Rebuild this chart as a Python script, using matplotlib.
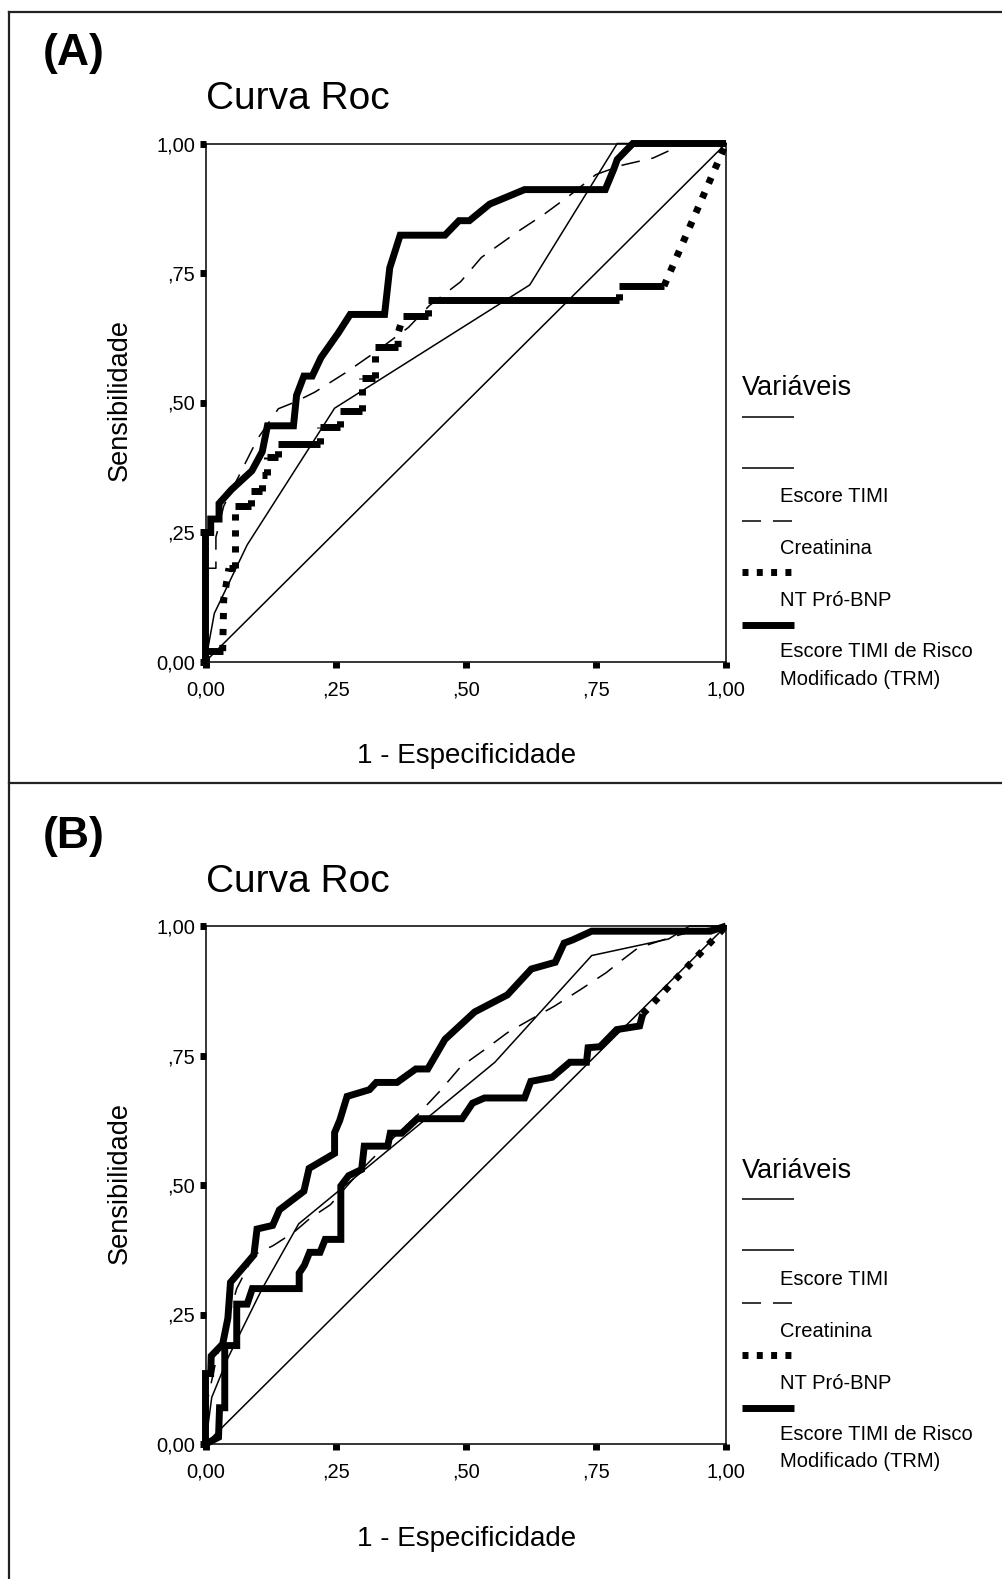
import matplotlib
matplotlib.use("Agg")
import matplotlib.pyplot as plt
from matplotlib.lines import Line2D

plt.rcParams['font.family'] = ['Liberation Sans', 'DejaVu Sans']
plt.rcParams['lines.scale_dashes'] = False

# ---------------- DATA ----------------
tick_vals = [0.0, 0.25, 0.5, 0.75, 1.0]
xtick_labels = ["0,00", ",25", ",50", ",75", "1,00"]
ytick_labels = ["0,00", ",25", ",50", ",75", "1,00"]
legend_labels = ["", "Escore TIMI", "Creatinina", "NT Pró-BNP",
                 "Escore TIMI de Risco", "Modificado (TRM)"]

ref_x = [0.0, 1.0]
ref_y = [0.0, 1.0]

# Panel A
a_timi_x = [0.0, 0.017, 0.08, 0.248, 0.623, 0.791, 1.0]
a_timi_y = [0.0, 0.093, 0.225, 0.489, 0.727, 1.0, 1.0]

a_creat_x = [0.0, 0.0, 0.02, 0.02, 0.035, 0.10, 0.14, 0.17, 0.21, 0.27, 0.33,
             0.39, 0.43, 0.49, 0.53, 0.60, 0.65, 0.70, 0.75, 0.80, 0.86, 0.91, 1.0]
a_creat_y = [0.0, 0.18, 0.18, 0.24, 0.30, 0.43, 0.488, 0.50, 0.52, 0.558, 0.60,
             0.645, 0.687, 0.733, 0.78, 0.83, 0.863, 0.90, 0.94, 0.958, 0.972, 0.995, 1.0]

a_bnp_x = [0.0, 0.0, 0.033, 0.035, 0.045, 0.057, 0.057, 0.087, 0.087, 0.108, 0.108,
           0.118, 0.118, 0.14, 0.14, 0.22, 0.22, 0.258, 0.258, 0.30, 0.30, 0.30,
           0.325, 0.325, 0.325, 0.37, 0.37, 0.38, 0.427, 0.427, 0.795, 0.795, 0.881, 1.0]
a_bnp_y = [0.0, 0.02, 0.02, 0.12, 0.18, 0.18, 0.30, 0.30, 0.33, 0.33, 0.36,
           0.36, 0.395, 0.395, 0.42, 0.42, 0.453, 0.453, 0.484, 0.484, 0.511, 0.547,
           0.547, 0.571, 0.607, 0.607, 0.634, 0.667, 0.667, 0.697, 0.697, 0.725, 0.725, 1.0]

a_trm_x = [0.0, 0.0, 0.01, 0.01, 0.026, 0.026, 0.05, 0.089, 0.109, 0.119, 0.169,
           0.175, 0.189, 0.205, 0.222, 0.255, 0.278, 0.344, 0.354, 0.374, 0.460,
           0.487, 0.507, 0.546, 0.613, 0.768, 0.785, 0.791, 0.821, 1.0]
a_trm_y = [0.0, 0.249, 0.249, 0.275, 0.275, 0.305, 0.332, 0.368, 0.405, 0.455, 0.455,
           0.514, 0.551, 0.551, 0.587, 0.634, 0.670, 0.670, 0.760, 0.823, 0.823,
           0.851, 0.851, 0.883, 0.911, 0.911, 0.952, 0.969, 1.0, 1.0]

# Panel B
b_timi_x = [0.0, 0.012, 0.043, 0.109, 0.179, 0.556, 0.742, 0.89, 0.93, 1.0]
b_timi_y = [0.0, 0.09, 0.166, 0.30, 0.425, 0.737, 0.943, 0.975, 1.0, 1.0]

b_creat_x = [0.0, 0.005, 0.02, 0.04, 0.06, 0.093, 0.13, 0.17, 0.20, 0.24, 0.30,
             0.36, 0.41, 0.45, 0.49, 0.54, 0.58, 0.62, 0.67, 0.72, 0.77, 0.80,
             0.83, 0.86, 0.90, 0.95, 1.0]
b_creat_y = [0.0, 0.09, 0.16, 0.23, 0.30, 0.365, 0.383, 0.409, 0.435, 0.462, 0.53,
             0.59, 0.638, 0.681, 0.728, 0.764, 0.794, 0.817, 0.845, 0.877, 0.91, 0.934,
             0.957, 0.967, 0.98, 0.993, 1.0]

b_bnp_x = [0.0, 0.025, 0.027, 0.037, 0.037, 0.06, 0.06, 0.08, 0.09, 0.18, 0.18,
           0.19, 0.20, 0.22, 0.23, 0.26, 0.26, 0.275, 0.30, 0.305, 0.35, 0.355,
           0.377, 0.407, 0.493, 0.513, 0.536, 0.613, 0.625, 0.666, 0.70, 0.732,
           0.735, 0.758, 0.79, 0.834, 0.84, 1.0]
b_bnp_y = [0.0, 0.013, 0.07, 0.07, 0.19, 0.19, 0.27, 0.27, 0.30, 0.30, 0.33,
           0.345, 0.37, 0.37, 0.395, 0.395, 0.498, 0.518, 0.53, 0.575, 0.575, 0.60,
           0.60, 0.628, 0.628, 0.658, 0.668, 0.668, 0.70, 0.708, 0.737, 0.737,
           0.765, 0.767, 0.80, 0.807, 0.83, 1.0]

b_trm_x = [0.0, 0.0, 0.01, 0.011, 0.033, 0.043, 0.048, 0.093, 0.099, 0.129, 0.142,
           0.189, 0.199, 0.248, 0.248, 0.258, 0.272, 0.315, 0.328, 0.368, 0.404,
           0.427, 0.46, 0.517, 0.58, 0.626, 0.672, 0.689, 0.705, 0.742, 0.97, 1.0]
b_trm_y = [0.0, 0.136, 0.136, 0.17, 0.193, 0.243, 0.312, 0.365, 0.415, 0.422, 0.452,
           0.488, 0.532, 0.561, 0.601, 0.625, 0.671, 0.684, 0.698, 0.698, 0.724,
           0.724, 0.781, 0.834, 0.867, 0.917, 0.930, 0.967, 0.973, 0.99, 0.99, 1.0]

# ---------------- FIGURE ----------------
W, H = 1002, 1579
fig = plt.figure(figsize=(W / 100, H / 100), dpi=100)


def fx(px):
    return px / W


def fy(py):
    return 1 - py / H


THIN = 1.1
THICK = 5.0
DOT = (0, (4.5, 7.0))
DASH = (0, (13.5, 8.5))


def draw_bnp(ax, xs, ys, is_solid):
    # group consecutive segments by style
    groups = []
    for i in range(len(xs) - 1):
        solid = is_solid(xs[i + 1] - xs[i], ys[i + 1] - ys[i])
        if groups and groups[-1][0] == solid:
            groups[-1][1].append(xs[i + 1])
            groups[-1][2].append(ys[i + 1])
        else:
            groups.append([solid, [xs[i], xs[i + 1]], [ys[i], ys[i + 1]]])
    for solid, gx, gy in groups:
        ax.plot(gx, gy, color='black', lw=THICK,
                linestyle='-' if solid else DOT,
                solid_capstyle='butt', dash_capstyle='butt',
                solid_joinstyle='miter', clip_on=False, zorder=3)


def panel(off, letter, timi, creat, bnp, trm, bnp_rule):
    top, bot = 143.5 + off, 661.5 + off
    left, right = 205.5, 726
    ax = fig.add_axes([fx(left), fy(bot), fx(right) - fx(left), (bot - top) / H])
    ax.set_xlim(0, 1)
    ax.set_ylim(0, 1)
    for s in ax.spines.values():
        s.set_linewidth(1.1)
    ax.set_xticks(tick_vals)
    ax.set_xticklabels(xtick_labels)
    ax.set_yticks(tick_vals)
    ax.set_yticklabels(ytick_labels)
    ax.tick_params(direction='out', length=4.5, width=5, labelsize=14.5,
                   colors='black')
    ax.tick_params(axis='x', pad=9)
    ax.tick_params(axis='y', pad=3)

    ax.plot(ref_x, ref_y, color='black', lw=THIN, zorder=2, clip_on=False)
    ax.plot(timi[0], timi[1], color='black', lw=THIN, zorder=2, clip_on=False)
    ax.plot(creat[0], creat[1], color='black', lw=THIN, linestyle=DASH,
            zorder=2, clip_on=False)
    draw_bnp(ax, bnp[0], bnp[1], bnp_rule)
    ax.plot(trm[0], trm[1], color='black', lw=THICK, zorder=4, clip_on=False,
            solid_capstyle='butt', solid_joinstyle='miter')

    # titles and labels
    fig.text(fx(43), fy(54 + off), letter, fontsize=32, fontweight='bold',
             ha='left', va='center')
    fig.text(fx(206), fy(99 + off), "Curva Roc", fontsize=28, ha='left',
             va='center')
    fig.text(fx(120), fy(400 + off), "Sensibilidade", fontsize=19.5,
             rotation=90, ha='center', va='center')
    fig.text(fx(467), fy(756 + off), "1 - Especificidade", fontsize=20,
             ha='center', va='center')

    # legend (drawn manually)
    fig.text(fx(742), fy(388 + off), "Variáveis", fontsize=19.5, ha='left',
             va='center')
    lx = [fx(742), fx(794)]
    styles = [dict(lw=THIN, ls='-'), dict(lw=THIN, ls='-'),
              dict(lw=THIN, ls=(0, (13.7, 8.6))),
              dict(lw=THICK, ls=(0, (4.3, 6.0))),
              dict(lw=THICK, ls='-')]
    line_y = [416.5, 467.5, 520.5, 572, 625]
    for st, ly in zip(styles, line_y):
        fig.add_artist(Line2D(lx, [fy(ly + off)] * 2, color='black',
                              linewidth=st['lw'], linestyle=st['ls'],
                              solid_capstyle='butt', dash_capstyle='butt'))
    lab_y = [None, 497, 549, 601, 652, 679]
    for lab, laby in zip(legend_labels, lab_y):
        if lab:
            fig.text(fx(780), fy(laby + off), lab, fontsize=14.5, ha='left',
                     va='center')
    return ax


panel(0, "(A)", (a_timi_x, a_timi_y), (a_creat_x, a_creat_y),
      (a_bnp_x, a_bnp_y), (a_trm_x, a_trm_y),
      lambda dx, dy: dy == 0)
panel(782.5, "(B)", (b_timi_x, b_timi_y), (b_creat_x, b_creat_y),
      (b_bnp_x, b_bnp_y), (b_trm_x, b_trm_y),
      lambda dx, dy: not (dx > 0.1 and dy > 0.1))

# outer frame lines
frame_kw = dict(color='#222222', linewidth=1.6)
fig.add_artist(Line2D([fx(9), fx(9)], [fy(12), fy(1579)], **frame_kw))
fig.add_artist(Line2D([fx(9), 1.0], [fy(12), fy(12)], **frame_kw))
fig.add_artist(Line2D([fx(9), 1.0], [fy(783.5), fy(783.5)], **frame_kw))

fig.savefig("out.png", dpi=100)
